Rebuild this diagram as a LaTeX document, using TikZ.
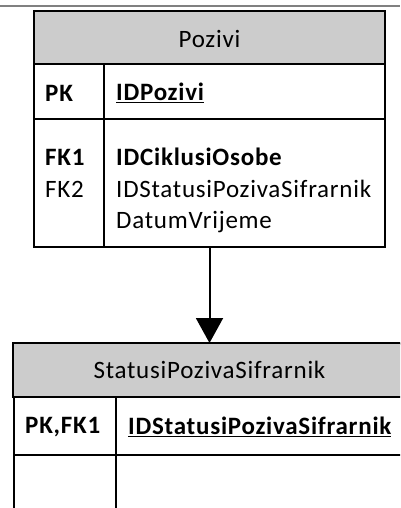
\documentclass[tikz,border=0pt]{standalone}
\usepackage{fontspec}
\setmainfont{Carlito}[LetterSpace=3]
\usetikzlibrary{arrows.meta}
\definecolor{headgray}{RGB}{204,204,204}
\tikzset{
  tablebox/.style={draw,line width=1.5pt,inner sep=0pt},
  headbox/.style={draw,line width=1.5pt,fill=headgray},
  cell/.style={anchor=west,inner sep=0pt,font=\fontsize{25}{28}\selectfont},
  title/.style={inner sep=0pt,font=\fontsize{25}{28}\selectfont}
}
\begin{document}
\begin{tikzpicture}[x=1pt,y=-1pt]
	\useasboundingbox (0,0) rectangle (400,508);
	\clip (0,0) rectangle (400,508);
	
	%frame line
	\draw[line width=2pt,color=black!50] (0,6) -- (400,6);
	%table Pozivi
	\draw[headbox] (34,11) rectangle (385,64);
	\node[tablebox,minimum width=351pt,minimum height=236pt] (pozivi) at (209.5,129) {};
	\draw[line width=1.5pt] (34,119) -- (385,119);
	\draw[line width=1.5pt] (104,64) -- (104,247);
	\node[title] (pozivititle) at (209.5,39) {Pozivi};
	\node[cell] (pk1) at (45,93) {\textbf{PK}};
	\node[cell] (idpozivi) at (116,93) {\textbf{\underline{IDPozivi}}};
	\node[cell] (fk1) at (45,157) {\textbf{FK1}};
	\node[cell] (fk2) at (45,189) {FK2};
	\node[cell] (idciklusi) at (116,157) {\textbf{IDCiklusiOsobe}};
	\node[cell] (idstatus) at (116,189) {IDStatusiPozivaSifrarnik};
	\node[cell] (datum) at (116,222) {DatumVrijeme};
	%table StatusiPozivaSifrarnik
	\node[tablebox,fill=white,minimum width=393pt,minimum height=200pt,anchor=north west] (status) at (13,343) {};
	\draw[headbox] (13,343) rectangle (406,397);
	\draw[line width=1.5pt] (13,455) -- (406,455);
	\draw[line width=1.5pt] (116,397) -- (116,543);
	\node[title] (statustitle) at (209.5,370) {StatusiPozivaSifrarnik};
	\node[cell] (pk2) at (25,427) {\textbf{PK,FK1}};
	\node[cell] (idstatuspk) at (128,427) {\textbf{\underline{IDStatusiPozivaSifrarnik}}};
	%relation
	\draw[line width=2pt,-{Triangle[width=27pt,length=25pt]}] (pozivi.south) -- (pozivi.south |- status.north);
\end{tikzpicture}
\end{document}
